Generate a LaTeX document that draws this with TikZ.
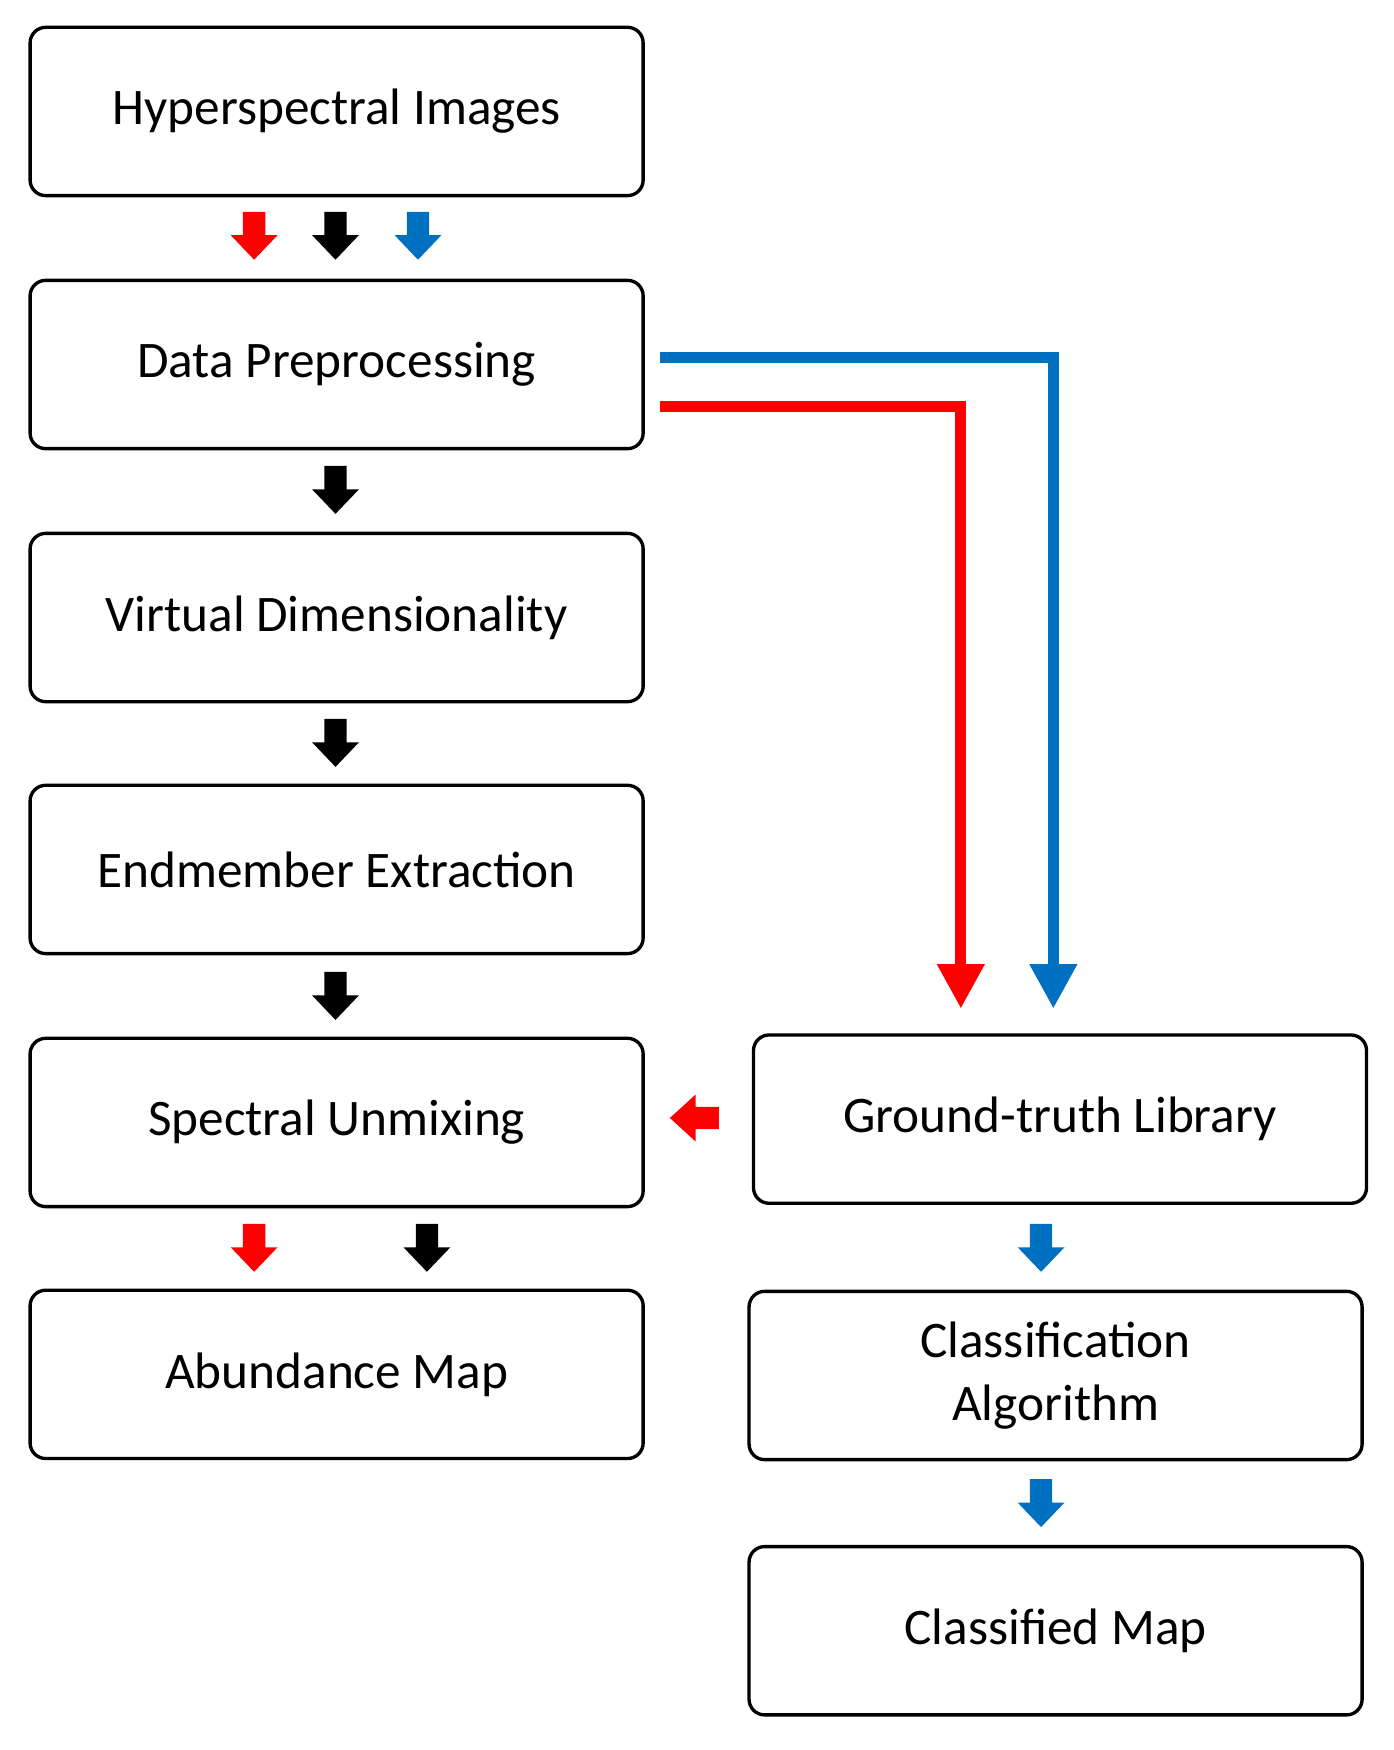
\documentclass[tikz,border=0pt]{standalone}
\usepackage{fontspec}
\setmainfont{Carlito}
\usetikzlibrary{arrows.meta}
\newcommand{\dar}[3]{\fill[#3] (#1-10,#2) -- (#1+10,#2) -- (#1+10,#2+21) -- (#1+21,#2+21) -- (#1,#2+43) -- (#1-21,#2+21) -- (#1-10,#2+21) -- cycle;}
\begin{document}
\begin{tikzpicture}[x=0.5pt,y=-0.5pt,
 box/.style={draw,line width=1.5pt,rounded corners=7pt,minimum width=275pt,minimum height=75.5pt,align=center,font=\fontsize{23}{28}\selectfont,inner sep=0pt},
 long/.style={line width=5pt,-{Triangle[width=20pt,length=20pt]}}]
\useasboundingbox (0,0) rectangle (1250,1570);
\definecolor{myred}{RGB}{255,0,0}
\definecolor{myblue}{RGB}{0,112,192}
\node[box] (hs) at (302,100) {Hyperspectral Images};
\node[box] (dp) at (302,327) {Data Preprocessing};
\node[box] (vd) at (302,554) {Virtual Dimensionality};
\node[box] (ee) at (302,780) {Endmember Extraction};
\node[box] (su) at (302,1007) {Spectral Unmixing};
\node[box] (am) at (302,1233) {Abundance Map};
\node[box] (gt) at (951,1004) {Ground-truth Library};
\node[box] (ca) at (947,1234) {Classification\\Algorithm};
\node[box] (cm) at (947,1463) {Classified Map};
\dar{228}{190}{myred}\dar{301}{190}{black}\dar{375}{190}{myblue}
\dar{301}{418}{black}\dar{301}{645}{black}\dar{301}{872}{black}
\dar{228}{1098}{myred}\dar{383}{1098}{black}
\dar{934}{1098}{myblue}\dar{934}{1327}{myblue}
\fill[myred] (645,993) -- (624,993) -- (624,982) -- (601,1003) -- (624,1024) -- (624,1013) -- (645,1013) -- cycle;
\coordinate (b1) at (592,321); \coordinate (b2) at (945,321); \coordinate (b3) at (945,905);
\coordinate (r1) at (592,365); \coordinate (r2) at (862,365); \coordinate (r3) at (862,905);
\draw[long,myblue] (b1) -- (b2) -- (b3);
\draw[long,myred] (r1) -- (r2) -- (r3);
\end{tikzpicture}
\end{document}
